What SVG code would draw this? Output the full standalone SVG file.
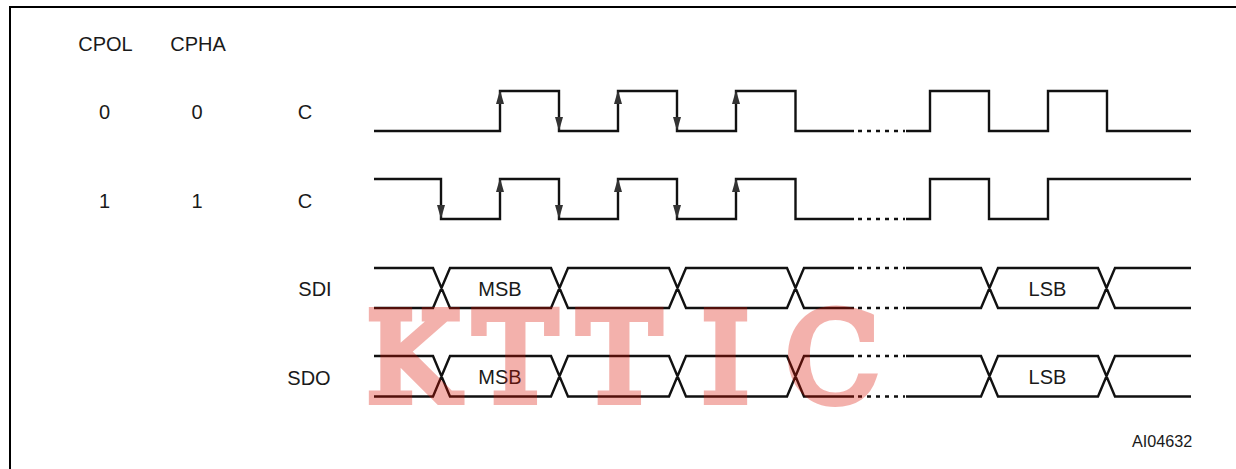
<svg xmlns="http://www.w3.org/2000/svg" width="1236" height="469" viewBox="0 0 1236 469">
<style>
text{font-family:"Liberation Sans",Arial,sans-serif;font-size:20px;fill:#1a1a1a}
.m{text-anchor:middle}
.w{fill:none;stroke:#111;stroke-width:2.4}
.d{fill:none;stroke:#111;stroke-width:2.4;stroke-dasharray:4 5}
.a{fill:#333}
.b{fill:none;stroke:#000;stroke-width:2}
</style>
<rect width="1236" height="469" fill="#fff"/>
<path id="frame" class="b" d="M10 469V7H1236"/>
<g id="labels">
<text class="m" x="105.500" y="51">CPOL</text><text class="m" x="198" y="51">CPHA</text>
<text class="m" x="104.500" y="119">0</text><text class="m" x="197" y="119">0</text><text class="m" x="305" y="119">C</text>
<text class="m" x="104.500" y="208">1</text><text class="m" x="197" y="208">1</text><text class="m" x="305" y="208">C</text>
<text class="m" x="315" y="296">SDI</text><text class="m" x="309" y="385">SDO</text>
<text class="m" x="500" y="296">MSB</text><text class="m" x="500" y="384">MSB</text>
<text class="m" x="1047.500" y="296">LSB</text><text class="m" x="1047.500" y="384">LSB</text>
<text x="1132" y="447" style="font-size:16.200px">AI04632</text>
</g>
<g id="connectors">
<path id="c0" class="w" d="M374 131H500V91H559V131H618V91H677V131H736V91H795.500V131H854M906 131H930V91H989V131H1048V91H1107V131H1191"/>
<path class="d" d="M858 131H905"/>
<path id="c1" class="w" d="M374 179H441V219H500V179H559V219H618V179H677V219H736V179H795.500V219H854M906 219H930V179H989V219H1048V179H1191"/>
<path class="d" d="M858 219H905"/>
<g id="arrows">
<path class="a" d="M500 90l-4 14h8zM618 90l-4 14h8zM736 90l-4 14h8zM500 178l-4 14h8zM618 178l-4 14h8zM736 178l-4 14h8z"/>
<path class="a" d="M559 131l-4 -14h8zM677 131l-4 -14h8zM441 219l-4 -14h8zM559 219l-4 -14h8zM677 219l-4 -14h8z"/>
</g>
<path id="sdi" class="w" d="M374 268H433L450 308H551L568 268H669L686 308H787L804 268H854M906 268H981L998 308H1098L1115 268H1191M374 308H433L450 268H551L568 308H669L686 268H787L804 308H854M906 308H981L998 268H1098L1115 308H1191"/>
<path class="d" d="M858 268H905M858 308H905"/>
<path id="sdo" class="w" d="M374 356H433L450 396.500H551L568 356H669L686 396.500H787L804 356H854M906 356H981L998 396.500H1098L1115 356H1191M374 396.500H433L450 356H551L568 396.500H669L686 356H787L804 396.500H854M906 396.500H981L998 356H1098L1115 396.500H1191"/>
<path class="d" d="M858 356H905M858 396.500H905"/>
</g>
<text id="watermark" x="366 474 578 701 785" y="401" opacity=".32" style="font-family:'DejaVu Serif',serif;font-size:124px;fill:rgb(220,16,0);stroke:rgb(220,16,0);stroke-width:8">KTTIC</text>
</svg>
